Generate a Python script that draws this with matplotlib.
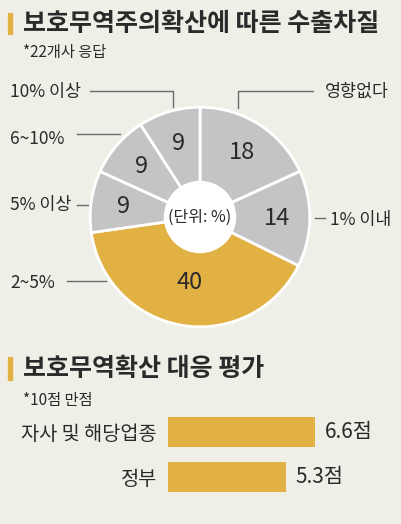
import matplotlib
matplotlib.use("Agg")
import matplotlib.pyplot as plt
from matplotlib.patches import Circle, Rectangle
import numpy as np

plt.rcParams['font.family'] = ['Noto Sans CJK KR', 'DejaVu Sans']

# 데이터
pie_labels = ['영향없다', '1% 이내', '2~5%', '5% 이상', '6~10%', '10% 이상']
pie_values = [18, 14, 40, 9, 9, 9]
bar_labels = ['자사 및 해당업종', '정부']
bar_values = [6.6, 5.3]

BG = '#f0efe7'
GRAY = '#c4c4c4'
GOLD = '#e2b143'
TXT = '#2a2a2a'
LINE = '#6a6a6a'

W, H = 402, 524
fig = plt.figure(figsize=(W / 100, H / 100), dpi=100, facecolor=BG)

# 원그래프 (픽셀 기준 중심 200,217 반지름 112)
cx, cy, r = 200, 217, 112
pax = fig.add_axes([(cx - r) / W, (H - cy - r) / H, 2 * r / W, 2 * r / H])
pie_colors = [GRAY, GRAY, GOLD, GRAY, GRAY, GRAY]
wedges, _ = pax.pie(pie_values, colors=pie_colors, startangle=90, counterclock=False,
                    radius=1, wedgeprops=dict(edgecolor='white', linewidth=2))
pax.add_patch(Circle((0, 0), 0.33, facecolor='white', edgecolor='none', zorder=5))
pax.text(0, 0, '(단위: %)', ha='center', va='center', fontsize=11.5, color=TXT, zorder=6)
for w, v in zip(wedges, pie_values):
    ang = np.deg2rad((w.theta1 + w.theta2) / 2)
    d = 0.6 if v == 40 else 0.7
    pax.text(d * np.cos(ang), d * np.sin(ang), str(v), ha='center', va='center',
             fontsize=17, fontweight='medium', color=TXT)
pax.set_xlim(-1.02, 1.02)
pax.set_ylim(-1.02, 1.02)

# 막대그래프
bax = fig.add_axes([168 / W, (H - 522) / H, 222.7 / W, 135 / H])
bax.set_facecolor('none')
ypos = list(range(len(bar_values)))
bax.barh(ypos, bar_values, height=0.67, color=GOLD)
bax.set_xlim(0, 10)
bax.set_ylim(2, -1)
bax.set_yticks(ypos)
bax.set_yticklabels(bar_labels, fontsize=14.2, color=TXT)
bax.tick_params(axis='y', length=0, pad=8)
bax.set_xticks([])
for s in bax.spines.values():
    s.set_visible(False)
for y, v in zip(ypos, bar_values):
    bax.annotate(f'{v}점', (v, y), xytext=(7, 0), textcoords='offset points',
                 ha='left', va='center', fontsize=15, fontweight='medium', color=TXT)

# 제목, 주석, 지시선 (픽셀 좌표)
ax = fig.add_axes([0, 0, 1, 1])
ax.set_xlim(0, W)
ax.set_ylim(H, 0)
ax.axis('off')
ax.set_zorder(-1)
ax.add_patch(Rectangle((8, 13), 4, 21, color=GOLD))
ax.text(23, 24, '보호무역주의확산에 따른 수출차질', fontsize=18, fontweight='heavy',
        color=TXT, va='center', ha='left')
ax.text(23, 52, '*22개사 응답', fontsize=11, color=TXT, va='center', ha='left')

ax.add_patch(Rectangle((8, 357), 4, 23, color=GOLD))
ax.text(23, 369, '보호무역확산 대응 평가', fontsize=18, fontweight='heavy',
        color=TXT, va='center', ha='left')
ax.text(23, 400, '*10점 만점', fontsize=11, color=TXT, va='center', ha='left')

lab_pos = {
    '10% 이상': (10, 92, 'left'),
    '영향없다': (389, 92, 'right'),
    '6~10%': (10, 139, 'left'),
    '5% 이상': (10, 205, 'left'),
    '1% 이내': (330, 220, 'left'),
    '2~5%': (10, 283, 'left'),
}
lead = {
    '10% 이상': [(90, 91), (173, 91), (173, 107)],
    '영향없다': [(313, 91), (238, 91), (238, 108)],
    '6~10%': [(77, 134), (120, 134)],
    '5% 이상': [(77, 205), (88, 205)],
    '1% 이내': [(315, 218), (325, 218)],
    '2~5%': [(67, 281), (106, 281)],
}
for name in pie_labels:
    x, y, ha = lab_pos[name]
    ax.text(x, y, name, fontsize=12.5, color=TXT, va='center', ha=ha)
    pts = lead[name]
    ax.plot([p[0] for p in pts], [p[1] for p in pts], color=LINE, lw=1)

fig.savefig('out.png', dpi=100, facecolor=BG)
